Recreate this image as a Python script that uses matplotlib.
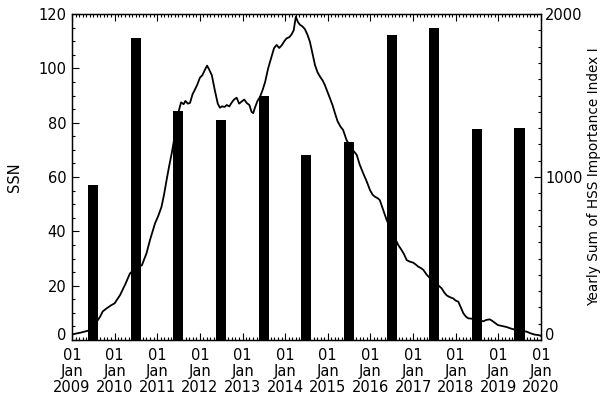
import numpy as np
import pandas as pd
import matplotlib
matplotlib.use('Agg')
import matplotlib.pyplot as plt
import matplotlib.dates as mdates

# sunspot number (decimal year, SSN)
ssn_year = [
    2009.00, 2009.10, 2009.20, 2009.32, 2009.42, 2009.55, 2009.66, 2009.72, 2009.80, 2009.92,
    2010.00, 2010.13, 2010.25, 2010.36, 2010.50, 2010.64, 2010.75, 2010.83, 2010.95, 2011.02,
    2011.10, 2011.16, 2011.22, 2011.28, 2011.34, 2011.42, 2011.50, 2011.56, 2011.62, 2011.66,
    2011.72, 2011.77, 2011.83, 2011.88, 2011.94, 2012.00, 2012.06, 2012.12, 2012.17, 2012.22,
    2012.28, 2012.35, 2012.42, 2012.47, 2012.52, 2012.58, 2012.63, 2012.69, 2012.75, 2012.80,
    2012.86, 2012.92, 2012.98, 2013.04, 2013.10, 2013.16, 2013.21, 2013.25, 2013.29, 2013.35,
    2013.41, 2013.47, 2013.53, 2013.60, 2013.68, 2013.74, 2013.80, 2013.86, 2013.92, 2013.98,
    2014.03, 2014.10, 2014.15, 2014.20, 2014.25, 2014.30, 2014.35, 2014.40, 2014.46, 2014.52,
    2014.58, 2014.64, 2014.70, 2014.76, 2014.82, 2014.88, 2014.93, 2014.99, 2015.05, 2015.11,
    2015.17, 2015.23, 2015.30, 2015.36, 2015.44, 2015.56, 2015.68, 2015.75, 2015.83, 2015.91,
    2015.99, 2016.05, 2016.11, 2016.17, 2016.22, 2016.30, 2016.38, 2016.53, 2016.65, 2016.73,
    2016.79, 2016.85, 2016.93, 2017.00, 2017.06, 2017.12, 2017.18, 2017.24, 2017.32, 2017.40,
    2017.53, 2017.67, 2017.73, 2017.79, 2017.86, 2017.94, 2018.00, 2018.06, 2018.12, 2018.18,
    2018.24, 2018.29, 2018.40, 2018.53, 2018.65, 2018.72, 2018.80, 2018.86, 2018.93, 2018.99,
    2019.10, 2019.19, 2019.30, 2019.41, 2019.55, 2019.66, 2019.75, 2019.85, 2019.95, 2020.00,
]
ssn_value = [
    2.0, 2.4, 2.7, 3.2, 3.6, 6.0, 8.6, 10.5, 11.5, 12.8,
    13.5, 16.6, 20.5, 24.5, 26.5, 27.5, 32.0, 36.8, 43.0, 45.5,
    49.0, 53.5, 58.9, 64.0, 68.7, 76.0, 84.0, 87.5, 86.8, 88.0,
    87.0, 87.3, 90.5, 92.0, 94.0, 96.5, 97.5, 99.5, 101.0, 99.5,
    97.5, 92.0, 87.0, 85.5, 86.0, 85.8, 86.5, 86.0, 87.5, 88.5,
    89.2, 87.0, 87.8, 88.5, 87.2, 86.5, 84.0, 83.5, 85.5, 88.0,
    89.5, 92.0, 95.0, 100.0, 104.3, 107.5, 108.6, 107.5, 108.5, 110.0,
    111.0, 111.5, 112.5, 114.0, 119.0, 117.0, 116.0, 115.5, 114.5, 112.5,
    109.8, 105.5, 101.2, 98.5, 96.9, 95.5, 93.9, 91.5, 89.0, 86.5,
    83.4, 80.5, 78.5, 77.3, 73.6, 70.5, 68.1, 64.5, 61.4, 58.5,
    55.2, 53.5, 52.7, 52.2, 51.5, 47.8, 44.2, 39.0, 35.0, 33.1,
    31.5, 29.4, 28.8, 28.5, 27.8, 27.0, 26.5, 25.8, 24.0, 22.7,
    21.0, 19.0, 17.5, 16.4, 15.8, 15.3, 14.5, 14.1, 12.0, 9.8,
    8.6, 8.0, 7.8, 7.2, 6.9, 7.4, 7.6, 7.0, 6.2, 5.5,
    5.1, 4.8, 4.2, 3.7, 3.3, 3.1, 2.5, 2.0, 1.8, 1.5,
]

# yearly sum of HSS importance index
hss_year = [2009, 2010, 2011, 2012, 2013, 2014, 2015, 2016, 2017, 2018, 2019]
hss_sum = [950, 1855, 1405, 1350, 1497, 1135, 1215, 1873, 1914, 1294, 1302]


def decimal_to_date(y):
    yr = int(np.floor(y))
    start = pd.Timestamp(year=yr, month=1, day=1)
    end = pd.Timestamp(year=yr + 1, month=1, day=1)
    return start + (end - start) * (y - yr)


plt.rcParams['font.family'] = 'DejaVu Sans'
plt.rcParams['font.size'] = 10.5

fig = plt.figure(figsize=(6.06, 3.98), dpi=100)
ax = fig.add_subplot(111)
fig.subplots_adjust(left=0.1188, right=0.8927, bottom=0.1457, top=0.9648)

ssn_dates = [decimal_to_date(y) for y in ssn_year]
bar_dates = [pd.Timestamp(year=y, month=7, day=1) for y in hss_year]

ax2 = ax.twinx()
ax2.bar(bar_dates, hss_sum, width=86, color='black', align='center')
ax2.set_ylim(0, 2000)
ax2.set_yticks([0, 1000, 2000])
ax2.yaxis.set_minor_locator(matplotlib.ticker.MultipleLocator(100))
ax2.set_ylabel('Yearly Sum of HSS Importance Index I', fontsize=9.8, labelpad=3)

ax.plot(ssn_dates, ssn_value, color='black', linewidth=1.3)
ax.set_zorder(ax2.get_zorder() + 1)
ax.patch.set_visible(False)

ax.set_xlim(pd.Timestamp('2009-01-01'), pd.Timestamp('2020-01-01'))
ax.set_ylim(0, 120)
ax.set_yticks(np.arange(0, 121, 20))
ax.yaxis.set_minor_locator(matplotlib.ticker.MultipleLocator(5))
ax.set_ylabel('SSN', labelpad=12)

ax.xaxis.set_major_locator(mdates.YearLocator())
ax.xaxis.set_minor_locator(mdates.MonthLocator())
ax.xaxis.set_major_formatter(mdates.DateFormatter('%d\n%b\n%Y'))
for t in ax.get_xticklabels():
    t.set_linespacing(1.05)

ax.tick_params(axis='x', which='both', direction='in', top=True, pad=6)
ax.tick_params(axis='x', which='major', length=5, width=0.8)
ax.tick_params(axis='x', which='minor', length=2.5, width=0.8)
ax.tick_params(axis='y', which='major', direction='in', length=5, width=0.8, pad=4)
ax.tick_params(axis='y', which='minor', direction='in', length=2.5, width=0.8)
ax2.tick_params(axis='y', which='major', direction='in', length=5, width=0.8, pad=3)
ax2.tick_params(axis='y', which='minor', direction='in', length=2.5, width=0.8)

# the zero labels sit a little above the bottom axis, as in the original
fig.canvas.draw()
ax.get_yticklabels()[0].set_verticalalignment('baseline')
ax2.get_yticklabels()[0].set_verticalalignment('baseline')

for a in (ax, ax2):
    for s in a.spines.values():
        s.set_linewidth(0.9)

plt.savefig('out.png', dpi=100)
